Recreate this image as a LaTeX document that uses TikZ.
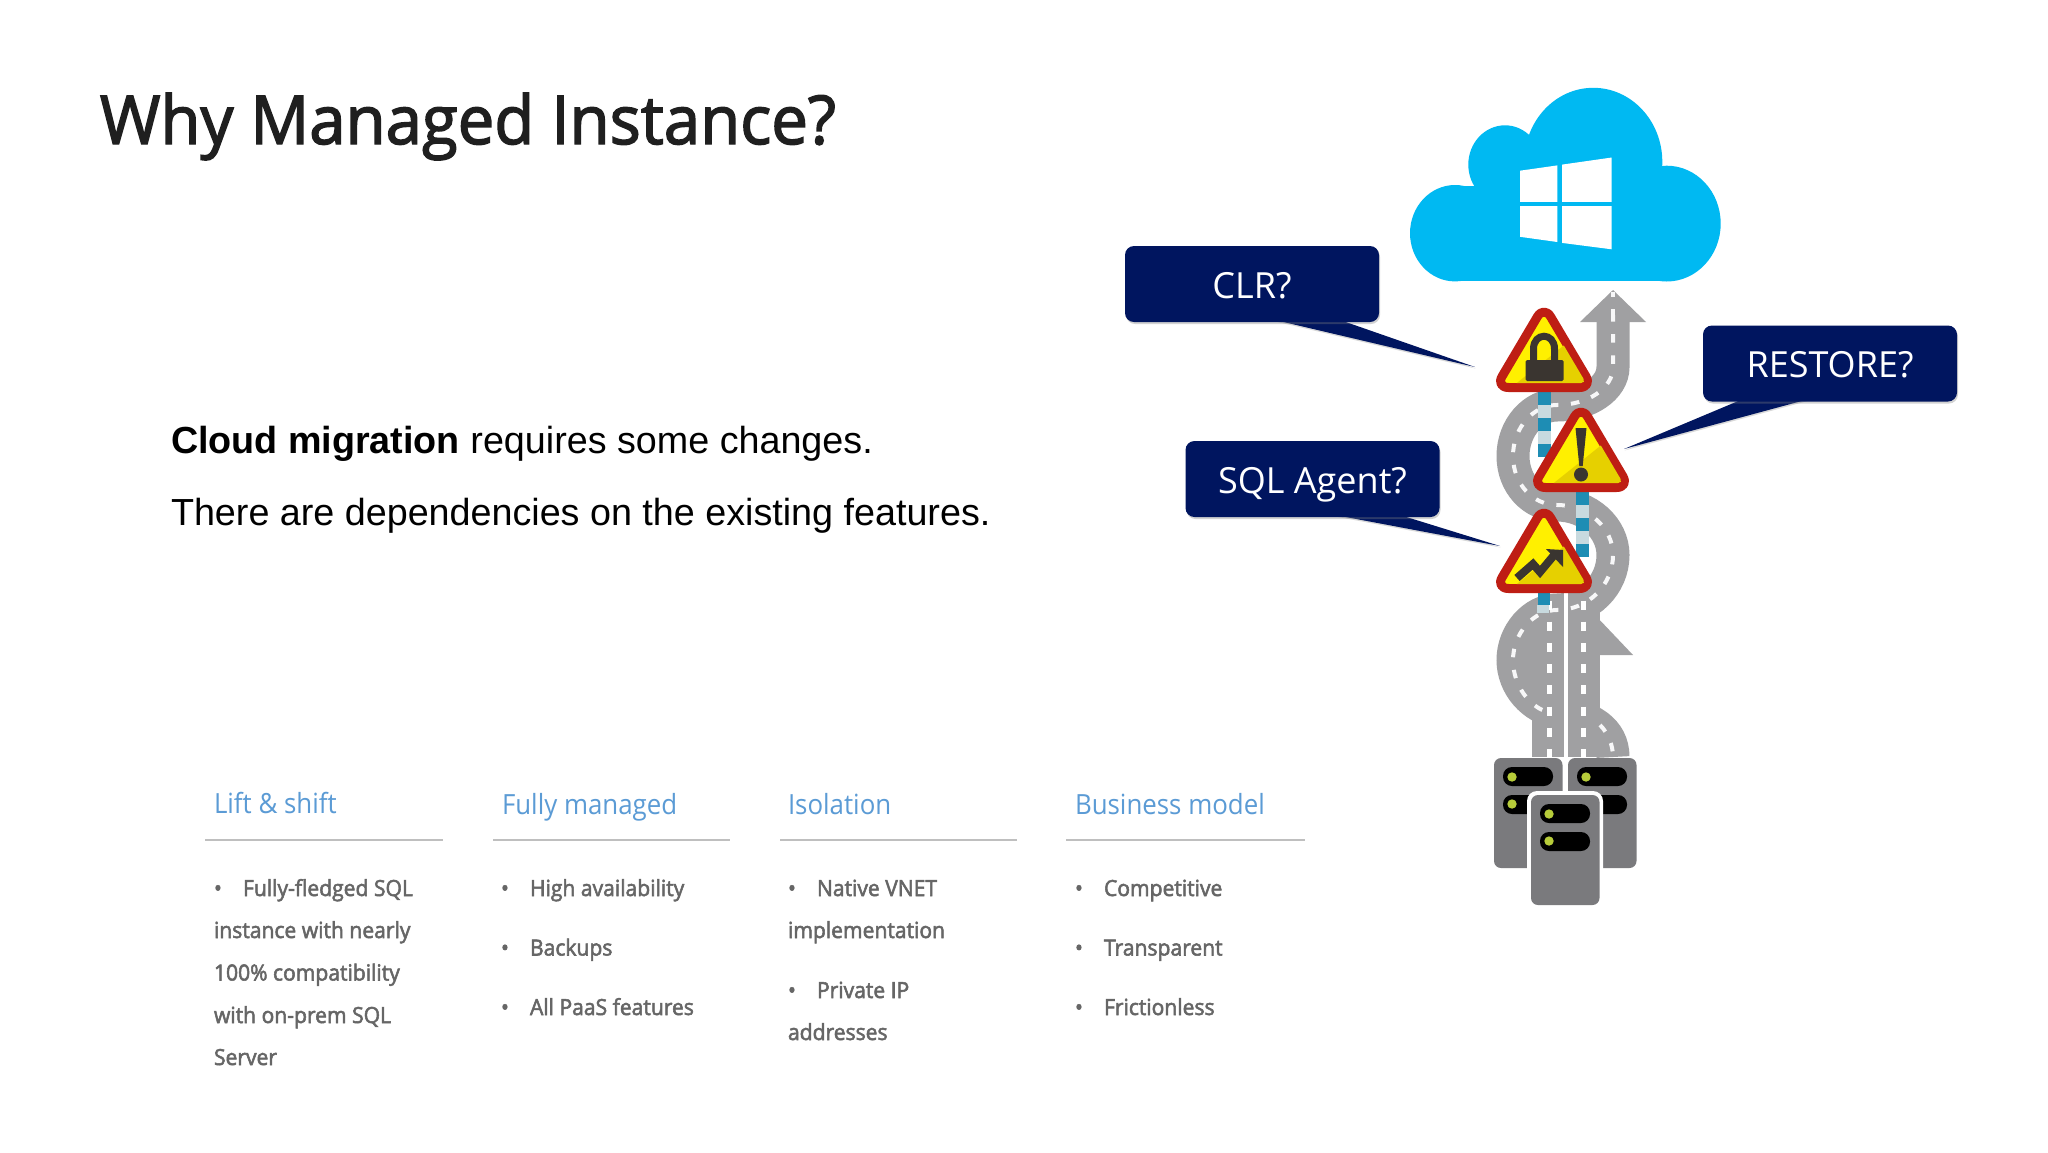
\documentclass[tikz,border=0pt]{standalone}
\usepackage{fontspec}
\usetikzlibrary{shadows}
\setmainfont{Liberation Sans}
\newfontfamily\titlef[FakeBold=2.2,FakeStretch=0.97]{Open Sans}
\newfontfamily\headf[FakeStretch=0.93]{Open Sans}
\newfontfamily\listf[FakeBold=2.4,FakeStretch=0.95]{Open Sans}
\newfontfamily\boxf{Open Sans}
\definecolor{navy}{HTML}{00155F}
\definecolor{cloudblue}{HTML}{00B9F2}
\definecolor{roadgray}{HTML}{A0A0A2}
\definecolor{signred}{HTML}{BE1E14}
\definecolor{signyellow}{HTML}{FFF000}
\definecolor{signdark}{HTML}{E6D000}
\definecolor{glyph}{HTML}{3A3530}
\definecolor{poleblue}{HTML}{1E8DB4}
\definecolor{polelight}{HTML}{C8DADF}
\definecolor{servergray}{HTML}{7A7A7D}
\definecolor{ledgreen}{HTML}{B7CC3A}
\definecolor{headblue}{HTML}{5B9BD5}
\definecolor{listgray}{HTML}{666666}
\definecolor{rulegray}{HTML}{BFBFBF}
\tikzset{
  txt/.style={anchor=base west,inner sep=0pt,outer sep=0pt},
  titletext/.style={txt,text=black!88,font=\titlef\fontsize{67.3}{67.3}\selectfont},
  bodytext/.style={txt,text=black,font=\fontsize{37.7}{37.7}\selectfont},
  headtext/.style={txt,text=headblue,font=\headf\fontsize{27.8}{27.8}\selectfont},
  listtext/.style={txt,text=listgray,font=\listf\fontsize{22.2}{22.2}\selectfont},
  rulerline/.style={draw=rulegray,line width=1.6pt},
  callbox/.style={fill=navy,rounded corners=9pt,minimum width=254pt,minimum height=76pt,inner sep=0pt,text=white,
     text height=28pt,text depth=0pt,
     font=\boxf\fontsize{36}{36}\selectfont,drop shadow={shadow xshift=1pt,shadow yshift=-2pt,opacity=.35}},
  calltail/.style={fill=navy,drop shadow={shadow xshift=0.5pt,shadow yshift=-1.5pt,opacity=.3}},
  roadbed/.style={draw=roadgray,line width=33pt},
  roaddash/.style={draw=white!92!roadgray,line width=4pt,dash pattern=on 8.5pt off 12.7pt},
  lanedash/.style={draw=white,line width=5pt,dash pattern=on 9pt off 12.2pt},
  pill/.style={fill=black,rounded corners=9pt},
  led/.style={fill=ledgreen},
  roadsign/.pic={
    \path[fill=signyellow,draw=signred,line width=9pt,line join=round,rounded corners=13pt]
      (0,-0.5) -- (48.5,81.5) -- (-48.5,81.5) -- cycle;
    \begin{scope}
      \clip[rounded corners=5pt] (0,6) -- (42,77) -- (-42,77) -- cycle;
      \fill[signdark] (-36,84) -- (28,33) -- (60,33) -- (60,90) -- (-36,90) -- cycle;
    \end{scope}
  },
  polebar/.pic={
    \foreach \i/\c in {0/poleblue,1/polelight,2/poleblue,3/polelight,4/poleblue}
      \fill[\c] (-6.5,\i*13) rectangle (6.5,\i*13+13);
  },
  serverunit/.pic={
    \fill[servergray,rounded corners=7pt] (0,0) rectangle (68.5,110);
    \fill[pill] (9,9) rectangle (59,28);
    \fill[pill] (9,37) rectangle (59,56);
    \fill[led] (18,19) circle (4.7);
    \fill[led] (18,46) circle (4.7);
  }
}
\begin{document}
\begin{tikzpicture}[x=1pt,y=-1pt]
\useasboundingbox (0,0) rectangle (2048,1152);
\fill[white] (0,0) rectangle (2048,1152);

% title and body
\node[titletext] (title) at (100,144) {Why Managed Instance?};
\node[bodytext] (line1) at (171,453) {\textbf{Cloud migration} requires some changes.};
\node[bodytext] (line2) at (171,525) {There are dependencies on the existing features.};

% column heads
\node[headtext] (h1) at (214,813) {Lift \& shift};
\node[headtext] (h2) at (502,814) {Fully managed};
\node[headtext] (h3) at (788,814) {Isolation};
\node[headtext] (h4) at (1075,814) {Business model};
\draw[rulerline] (205,840) -- (443,840);
\draw[rulerline] (493,840) -- (730,840);
\draw[rulerline] (780,840) -- (1017,840);
\draw[rulerline] (1066,840) -- (1305,840);

% column 1
\node[listtext] (b11) at (214,896) {•};
\node[listtext] (t11) at (243,896) {Fully-fledged SQL};
\node[listtext] (t12) at (214,938) {instance with nearly};
\node[listtext] (t13) at (214,980.5) {100\% compatibility};
\node[listtext] (t14) at (214,1023) {with on-prem SQL};
\node[listtext] (t15) at (214,1065) {Server};
% column 2
\node[listtext] (b21) at (501,896) {•};
\node[listtext] (t21) at (530,896) {High availability};
\node[listtext] (b22) at (501,955.5) {•};
\node[listtext] (t22) at (530,955.5) {Backups};
\node[listtext] (b23) at (501,1015) {•};
\node[listtext] (t23) at (530,1015) {All PaaS features};
% column 3
\node[listtext] (b31) at (788,896) {•};
\node[listtext] (t31) at (817,896) {Native VNET};
\node[listtext] (t32) at (788,938) {implementation};
\node[listtext] (b32) at (788,998) {•};
\node[listtext] (t33) at (817,998) {Private IP};
\node[listtext] (t34) at (788,1040) {addresses};
% column 4
\node[listtext] (b41) at (1075,896) {•};
\node[listtext] (t41) at (1104,896) {Competitive};
\node[listtext] (b42) at (1075,955.5) {•};
\node[listtext] (t42) at (1104,955.5) {Transparent};
\node[listtext] (b43) at (1075,1015) {•};
\node[listtext] (t43) at (1104,1015) {Frictionless};

% cloud
\fill[cloudblue] (1455,233.2) ellipse [x radius=45,y radius=48.2];
\fill[cloudblue] (1505,164.6) ellipse [x radius=36.7,y radius=39.3];
\fill[cloudblue] (1593.3,161.8) ellipse [x radius=69,y radius=74];
\fill[cloudblue] (1666.7,223.6) ellipse [x radius=54,y radius=57.9];
\fill[cloudblue] (1455,186) rectangle (1667,281.4);
\fill[white] (1520,170.7) -- (1557.3,165.4) -- (1557.3,201.8) -- (1520,201.8) -- cycle;
\fill[white] (1562,164.6) -- (1611.7,157.5) -- (1611.7,201.8) -- (1562,201.8) -- cycle;
\fill[white] (1520,206) -- (1557.3,206) -- (1557.3,242) -- (1520,236.8) -- cycle;
\fill[white] (1562,206) -- (1611.7,206) -- (1611.7,249.3) -- (1562,242.9) -- cycle;

% road
\fill[roadgray] (1613,290) -- (1646,322) -- (1580,322) -- cycle;
\draw[roadbed] (1613,315) -- (1613,367)
  .. controls (1613,388) and (1588,405) .. (1557,405)
  .. controls (1533,405) and (1513,428) .. (1513,456)
  .. controls (1513,484) and (1533,505) .. (1557,505)
  .. controls (1588,505) and (1613,528) .. (1613,555)
  .. controls (1613,585) and (1588,610) .. (1557,610)
  .. controls (1533,610) and (1513,634) .. (1513,660)
  .. controls (1513,686) and (1533,708) .. (1557,712)
  .. controls (1590,716) and (1613,730) .. (1613,757);
\fill[roadgray] (1532,600) rectangle (1565,757);
\fill[roadgray] (1567,595) rectangle (1600,757);
\fill[roadgray] (1595,615) -- (1633,655) -- (1598,655) -- cycle;
\fill[roadgray] (1522,628) rectangle (1540,697);
\draw[roaddash,dash phase=4] (1613,292) -- (1613,315);
\draw[roaddash,dash phase=2] (1613,315) -- (1613,367)
  .. controls (1613,388) and (1588,405) .. (1557,405)
  .. controls (1533,405) and (1513,428) .. (1513,456)
  .. controls (1513,484) and (1533,505) .. (1557,505)
  .. controls (1588,505) and (1613,528) .. (1613,555)
  .. controls (1613,585) and (1588,610) .. (1557,610)
  .. controls (1533,610) and (1513,634) .. (1513,660)
  .. controls (1513,686) and (1530,706) .. (1545,711);
\draw[roaddash] (1600,725) .. controls (1608,733) and (1613,745) .. (1613,757);
\draw[lanedash] (1549,600.5) -- (1549,757);
\draw[lanedash] (1583,600.5) -- (1583,757);
\draw[white,line width=3.5pt] (1566,588) -- (1566,758);

% poles
\pic at (1544,392) {polebar};
\pic at (1582,492) {polebar};
\begin{scope}
  \clip (1530,590) rectangle (1560,612);
  \fill[poleblue] (1538,590) rectangle (1550,605);
  \fill[polelight] (1537,605) rectangle (1549,615);
\end{scope}

% signs
\pic (signa) at (1544,306) {roadsign};
\pic (signb) at (1581,406) {roadsign};
\pic (signc) at (1544,507) {roadsign};
% lock
\begin{scope}[shift={(1544,306)}]
  \draw[glyph,line width=7pt] (-10.5,58) -- (-10.5,43) .. controls (-10.5,26) and (10.5,26) .. (10.5,43) -- (10.5,58);
  \fill[glyph,rounded corners=1.5pt] (-18.5,54) rectangle (19.5,75);
\end{scope}
% exclamation
\begin{scope}[shift={(1581,406)}]
  \fill[glyph] (-5.5,22) -- (5.5,22) -- (1.7,60) -- (-1.7,60) -- cycle;
  \fill[glyph] (0,68.5) circle (7);
\end{scope}
% chart arrow
\begin{scope}[shift={(1544,507)}]
  \draw[glyph,line width=8pt] (-27,71) -- (-11,57) -- (-4,65) -- (11,47);
  \fill[glyph] (2,42) -- (19,43) -- (19,60) -- cycle;
\end{scope}

% servers
\pic at (1494,758) {serverunit};
\pic at (1568,758) {serverunit};
\fill[white,rounded corners=10pt] (1527,791) rectangle (1603,906);
\pic at (1531,795) {serverunit};

% callouts
\coordinate (clrtip) at (1475,367);
\coordinate (sqltip) at (1500,546);
\coordinate (restip) at (1624,449);
\fill[calltail] (1275,320) -- (1340,320) -- (clrtip) -- cycle;
\fill[calltail] (1335,515) -- (1400,515) -- (sqltip) -- cycle;
\fill[calltail] (1743,399) -- (1809,399) -- (restip) -- cycle;
\node[callbox] (clr) at (1252,284) {CLR?};
\node[callbox] (sql) at (1312.5,479) {SQL Agent?};
\node[callbox] (res) at (1830,363.5) {RESTORE?};
\end{tikzpicture}
\end{document}
